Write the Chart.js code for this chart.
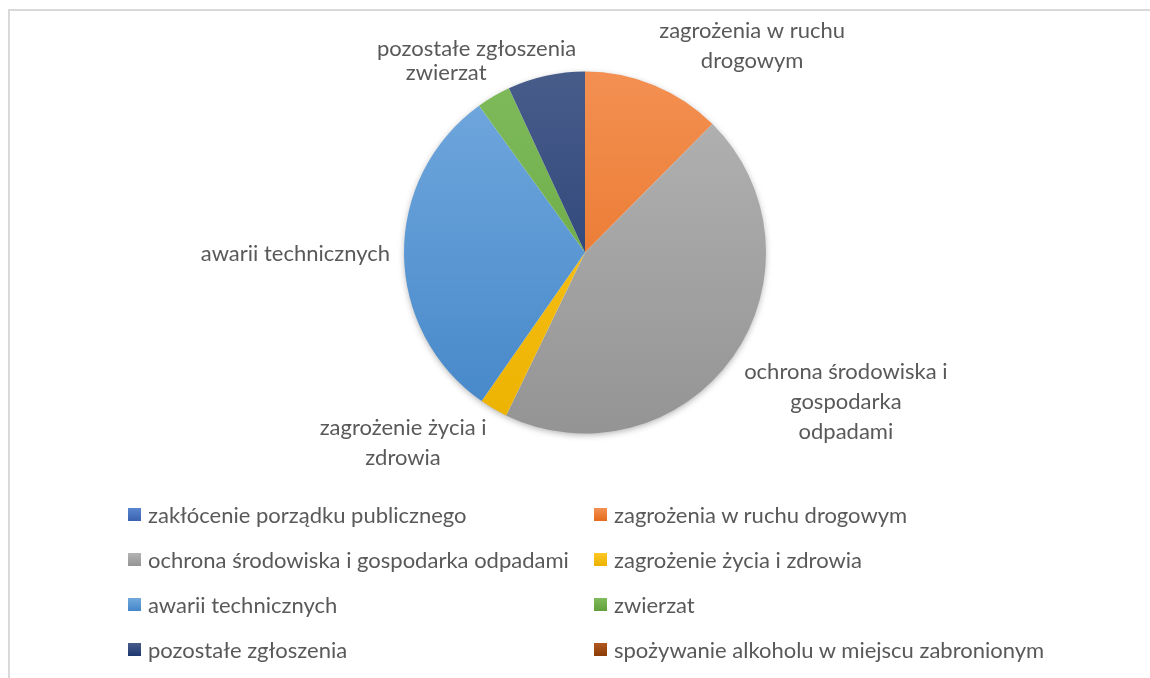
<!DOCTYPE html>
<html>
<head>
<meta charset="utf-8">
<script src="https://cdn.jsdelivr.net/npm/chart.js@4.4.1/dist/chart.umd.min.js"></script>
<style>
    html, body { margin: 0; padding: 0; background: #fff; width: 1150px; height: 678px; overflow: hidden; font-family: Lato, "Open Sans", sans-serif; }
    #frame { position: absolute; left: 8px; top: 9px; width: 1200px; height: 700px; border-left: 2px solid #d9d9d9; border-top: 2px solid #d9d9d9; }
    #wrap { position: absolute; left: 0; top: 0; width: 1150px; height: 678px; }
    #legend { position: absolute; left: 128px; top: 492px; display: grid; grid-template-columns: 466px auto; grid-auto-rows: 45px; color: #595959; font-size: 22px; }
    #legend .item { display: flex; align-items: center; white-space: nowrap; }
    #legend .box { width: 13px; height: 13px; margin-right: 7px; flex: none; }
</style>
</head>
<body>
<div id="frame"></div>
<div id="wrap"><canvas id="chart" width="1150" height="678"></canvas></div>
<div id="legend"></div>
<script>
// categories, in the order of the legend and of the slices (clockwise from the top)
const categories = [
    'zakłócenie porządku publicznego',
    'zagrożenia w ruchu drogowym',
    'ochrona środowiska i gospodarka odpadami',
    'zagrożenie życia i zdrowia',
    'awarii technicznych',
    'zwierzat',
    'pozostałe zgłoszenia',
    'spożywanie alkoholu w miejscu zabronionym'
];
// number of reports in each category
const counts = [0, 45, 162, 9, 110, 11, 25, 0];
// slice label text, wrapped as in the reference
const sliceLabels = [
    ['zakłócenie porządku publicznego'],
    ['zagrożenia w ruchu', 'drogowym'],
    ['ochrona środowiska i', 'gospodarka', 'odpadami'],
    ['zagrożenie życia i', 'zdrowia'],
    ['awarii technicznych'],
    ['zwierzat'],
    ['pozostałe zgłoszenia'],
    ['spożywanie alkoholu w miejscu zabronionym']
];

const baseColors = ['#4472C4', '#ED7D31', '#A5A5A5', '#FFC000', '#5B9BD5', '#70AD47', '#264478', '#9E480E'];
const topColors = ['#5A86D0', '#F39052', '#B4B4B4', '#FFC824', '#72A9DE', '#7FBB5B', '#485C8A', '#B0581E'];
const bottomColors = ['#3A62AE', '#E56C1B', '#949494', '#EBB200', '#4486C8', '#62A03A', '#1D3870', '#8C3C08'];

const TEXT_COLOR = '#595959';
const LABEL_FONT = '22px Lato';
const LINE_H = 30;
const GAP = 14;

function sliceGradient(context) {
    const chart = context.chart;
    const area = chart.chartArea;
    const i = context.dataIndex;
    if (!area) return baseColors[i];
    const g = chart.ctx.createLinearGradient(0, area.top, 0, area.bottom);
    g.addColorStop(0, topColors[i]);
    g.addColorStop(1, bottomColors[i]);
    return g;
}

// soft shadow under the whole pie
const pieShadow = {
    id: 'pieShadow',
    beforeDatasetsDraw(chart) {
        const arc = chart.getDatasetMeta(0).data[0];
        if (!arc) return;
        const ctx = chart.ctx;
        ctx.save();
        ctx.shadowColor = 'rgba(0,0,0,0.35)';
        ctx.shadowBlur = 7;
        ctx.shadowOffsetY = 2;
        ctx.fillStyle = '#ffffff';
        ctx.beginPath();
        ctx.arc(arc.x, arc.y, arc.outerRadius - 1, 0, Math.PI * 2);
        ctx.fill();
        ctx.restore();
    }
};

// category names outside the slices, Excel "best fit" style
const sliceNames = {
    id: 'sliceNames',
    afterDatasetsDraw(chart) {
        const ctx = chart.ctx;
        const meta = chart.getDatasetMeta(0);
        const placed = [];
        ctx.save();
        ctx.font = LABEL_FONT;
        ctx.fillStyle = TEXT_COLOR;
        ctx.textAlign = 'center';
        ctx.textBaseline = 'middle';
        meta.data.forEach((arc, i) => {
            if (!counts[i]) return;
            const p = arc.getProps(['x', 'y', 'startAngle', 'endAngle', 'outerRadius'], true);
            const mid = (p.startAngle + p.endAngle) / 2;
            const c = Math.cos(mid), s = Math.sin(mid);
            const px = p.x + c * (p.outerRadius + GAP);
            const py = p.y + s * (p.outerRadius + GAP);
            const lines = sliceLabels[i];
            const w = Math.max(...lines.map(l => ctx.measureText(l).width));
            const h = lines.length * LINE_H;
            let left = c > 0.2 ? px : (c < -0.2 ? px - w : px - w / 2);
            let top = s > 0.2 ? py - 8 : (s < -0.2 ? py - h + 4 : py - h / 2);
            placed.forEach(b => {
                if (left < b.left + b.w && left + w > b.left && top < b.top + b.h && top + h > b.top) {
                    top = b.top - h + 6;
                    left = b.left + b.w - w / 2 - 10;
                }
            });
            placed.push({ left, top, w, h });
            lines.forEach((ln, k) => ctx.fillText(ln, left + w / 2, top + LINE_H * (k + 0.5)));
        });
        ctx.restore();
    }
};

const chart = new Chart(document.getElementById('chart').getContext('2d'), {
    type: 'pie',
    data: {
        labels: categories,
        datasets: [{
            data: counts,
            backgroundColor: sliceGradient,
            borderWidth: 0
        }]
    },
    options: {
        responsive: false,
        animation: false,
        layout: { padding: { top: 71, bottom: 244, left: 404, right: 384 } },
        plugins: {
            legend: { display: false },
            tooltip: { enabled: false }
        }
    },
    plugins: [pieShadow, sliceNames]
});

// two-column legend under the pie
const legend = document.getElementById('legend');
categories.forEach((name, i) => {
    const item = document.createElement('div');
    item.className = 'item';
    const box = document.createElement('span');
    box.className = 'box';
    box.style.background = `linear-gradient(${topColors[i]}, ${bottomColors[i]})`;
    const txt = document.createElement('span');
    txt.textContent = name;
    item.appendChild(box);
    item.appendChild(txt);
    legend.appendChild(item);
});
</script>
</body>
</html>
